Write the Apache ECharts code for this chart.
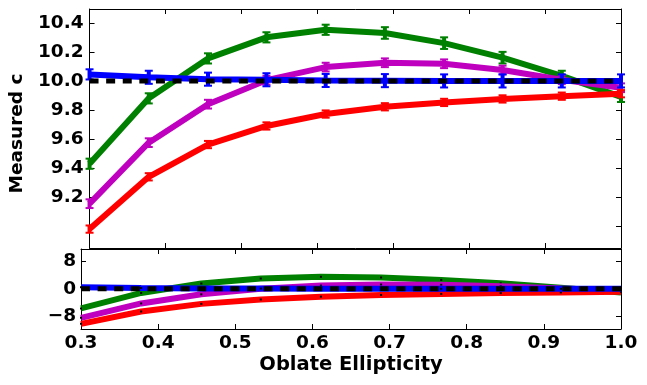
<!DOCTYPE html>
<html><head><meta charset="utf-8">
<script src="https://cdn.jsdelivr.net/npm/echarts@6/dist/echarts.min.js"></script>
<style>html,body{margin:0;padding:0;background:#fff}#c{width:647px;height:385px}</style>
</head><body><div id="c"></div>
<script>
const ellipticity = [0.3, 0.378, 0.456, 0.533, 0.611, 0.689, 0.767, 0.844, 0.922, 1.0];
const xTickLabels = [0.3, 0.4, 0.5, 0.6, 0.7, 0.8, 0.9, 1.0];
const topYTickLabels = [9.2, 9.4, 9.6, 9.8, 10.0, 10.2, 10.4];
const topYTicks = [9.0, 9.2, 9.4, 9.6, 9.8, 10.0, 10.2, 10.4];
const botYTickLabels = [-8, 0, 8];
const trueC = [10, 10, 10, 10, 10, 10, 10, 10, 10, 10];

const greenC = [9.43, 9.88, 10.155, 10.30, 10.352, 10.33, 10.26, 10.16, 10.035, 9.89];
const greenErr = [0.035, 0.035, 0.035, 0.035, 0.035, 0.04, 0.04, 0.04, 0.035, 0.035];
const magentaC = [9.155, 9.575, 9.84, 10.005, 10.095, 10.125, 10.118, 10.075, 10.008, 9.953];
const magentaErr = [0.03, 0.03, 0.03, 0.03, 0.03, 0.03, 0.03, 0.03, 0.03, 0.03];
const redC = [8.98, 9.34, 9.562, 9.69, 9.772, 9.822, 9.852, 9.876, 9.895, 9.912];
const redErr = [0.025, 0.025, 0.025, 0.025, 0.025, 0.025, 0.025, 0.025, 0.025, 0.025];
const blueC = [10.045, 10.025, 10.012, 10.008, 10.003, 10.002, 10.0, 10.0, 10.0, 10.0];
const blueErr = [0.035, 0.045, 0.045, 0.045, 0.045, 0.045, 0.045, 0.045, 0.045, 0.045];

const greenPct = [-5.7, -1.2, 1.55, 3.0, 3.5, 3.3, 2.6, 1.6, 0.35, -1.1];
const magentaPct = [-8.45, -4.25, -1.6, 0.05, 0.95, 1.25, 1.18, 0.75, 0.08, -0.47];
const redPct = [-10.2, -6.6, -4.38, -3.1, -2.28, -1.78, -1.48, -1.24, -1.05, -0.88];
const bluePct = [0.45, 0.25, 0.12, 0.08, 0.03, 0.02, 0.0, 0.0, 0.0, 0.0];
const truePct = [0, 0, 0, 0, 0, 0, 0, 0, 0, 0];

const FONT = 'DejaVu Sans';
const pair = (ys) => ellipticity.map((x, i) => [x, ys[i]]);
const errData = (ys, es) => ellipticity.map((x, i) => [x, ys[i] - es[i], ys[i] + es[i]]);

function errRender(color) {
  return function (params, api) {
    const x = api.value(0), lo = api.value(1), hi = api.value(2);
    const p1 = api.coord([x, hi]), p2 = api.coord([x, lo]);
    const hw = 4;
    return {
      type: 'group',
      children: [
        { type: 'line', shape: { x1: p1[0], y1: p1[1], x2: p2[0], y2: p2[1] }, style: { stroke: color, lineWidth: 4 } },
        { type: 'line', shape: { x1: p1[0] - hw, y1: p1[1], x2: p1[0] + hw, y2: p1[1] }, style: { stroke: color, lineWidth: 2 } },
        { type: 'line', shape: { x1: p2[0] - hw, y1: p2[1], x2: p2[0] + hw, y2: p2[1] }, style: { stroke: color, lineWidth: 2 } }
      ]
    };
  };
}

const line = (data, color, xi, yi, z, width, dashed) => ({
  type: 'line', xAxisIndex: xi, yAxisIndex: yi, data: data, z: z,
  symbol: dashed ? 'none' : 'rect', symbolSize: 2, showSymbol: !dashed,
  itemStyle: { color: '#000' },
  lineStyle: { color: color, width: width, type: dashed ? [9, 7.6] : 'solid', cap: 'butt' },
  emphasis: { disabled: true }, animation: false, silent: true, clip: true
});
const err = (data, color, z) => ({
  type: 'custom', xAxisIndex: 0, yAxisIndex: 0, data: data, z: z,
  renderItem: errRender(color), animation: false, silent: true
});

const tickStyle = { show: true, inside: true, length: 5, lineStyle: { color: '#000', width: 1 } };
const axLine = { show: true, onZero: false, lineStyle: { color: '#000', width: 1 } };
const xBase = (gi, pos, labels) => ({
  type: 'value', gridIndex: gi, position: pos, min: 0.3, max: 1.0,
  axisLine: axLine, splitLine: { show: false },
  axisTick: Object.assign({ customValues: xTickLabels }, tickStyle),
  axisLabel: labels ? { show: true, customValues: xTickLabels, formatter: v => v.toFixed(1), fontFamily: FONT, fontWeight: 'bold', fontSize: 18.5, color: '#000', margin: 5 } : { show: false }
});

const option = {
  backgroundColor: '#fff',
  animation: false,
  grid: [
    { left: 81, right: 26, top: 9, height: 239 },
    { left: 81, right: 26, top: 249, height: 80 }
  ],
  xAxis: [
    xBase(0, 'bottom', false),
    xBase(0, 'top', false),
    Object.assign(xBase(1, 'bottom', true), {
      name: 'Oblate Ellipticity', nameLocation: 'middle', nameGap: 26,
      nameTextStyle: { fontFamily: FONT, fontWeight: 'bold', fontSize: 19.5, color: '#000' }
    }),
    xBase(1, 'top', false)
  ],
  yAxis: [
    {
      type: 'value', gridIndex: 0, position: 'left', min: 8.85, max: 10.495,
      axisLine: axLine, splitLine: { show: false },
      axisTick: Object.assign({ customValues: topYTicks }, tickStyle),
      axisLabel: { customValues: topYTickLabels, formatter: v => v.toFixed(1), fontFamily: FONT, fontWeight: 'bold', fontSize: 18.5, color: '#000', margin: 6 },
      name: 'Measured c', nameLocation: 'middle', nameGap: 56, nameRotate: 90,
      nameTextStyle: { fontFamily: FONT, fontWeight: 'bold', fontSize: 18.5, color: '#000', padding: [0, 10, 0, 0] }
    },
    {
      type: 'value', gridIndex: 0, position: 'right', min: 8.85, max: 10.495,
      axisLine: axLine, splitLine: { show: false },
      axisTick: Object.assign({ customValues: topYTicks }, tickStyle),
      axisLabel: { show: false }
    },
    {
      type: 'value', gridIndex: 1, position: 'left', min: -11.7, max: 11.6,
      axisLine: axLine, splitLine: { show: false },
      axisTick: Object.assign({ customValues: botYTickLabels }, tickStyle),
      axisLabel: { customValues: botYTickLabels, formatter: v => (v < 0 ? '\u2212' + Math.abs(v) : String(v)), fontFamily: FONT, fontWeight: 'bold', fontSize: 18.5, color: '#000', margin: 5 }
    },
    {
      type: 'value', gridIndex: 1, position: 'right', min: -11.7, max: 11.6,
      axisLine: axLine, splitLine: { show: false },
      axisTick: Object.assign({ customValues: botYTickLabels }, tickStyle),
      axisLabel: { show: false }
    }
  ],
  series: [
    line(pair(greenC), '#008000', 0, 0, 2, 6, false),
    err(errData(greenC, greenErr), '#008000', 3),
    line(pair(magentaC), '#bf00bf', 0, 0, 4, 6, false),
    err(errData(magentaC, magentaErr), '#bf00bf', 5),
    line(pair(redC), '#ff0000', 0, 0, 6, 6, false),
    err(errData(redC, redErr), '#ff0000', 7),
    line(pair(blueC), '#0000ff', 0, 0, 8, 6, false),
    err(errData(blueC, blueErr), '#0000ff', 9),
    line(pair(trueC), '#000000', 0, 0, 10, 5, true),

    line(pair(greenPct), '#008000', 2, 2, 2, 6, false),
    line(pair(magentaPct), '#bf00bf', 2, 2, 4, 6, false),
    line(pair(redPct), '#ff0000', 2, 2, 6, 6, false),
    line(pair(bluePct), '#0000ff', 2, 2, 8, 6, false),
    line(pair(truePct), '#000000', 2, 2, 10, 5, true)
  ]
};

const chart = echarts.init(document.getElementById('c'), null, { renderer: 'canvas' });
chart.setOption(option);
</script>
</body></html>
